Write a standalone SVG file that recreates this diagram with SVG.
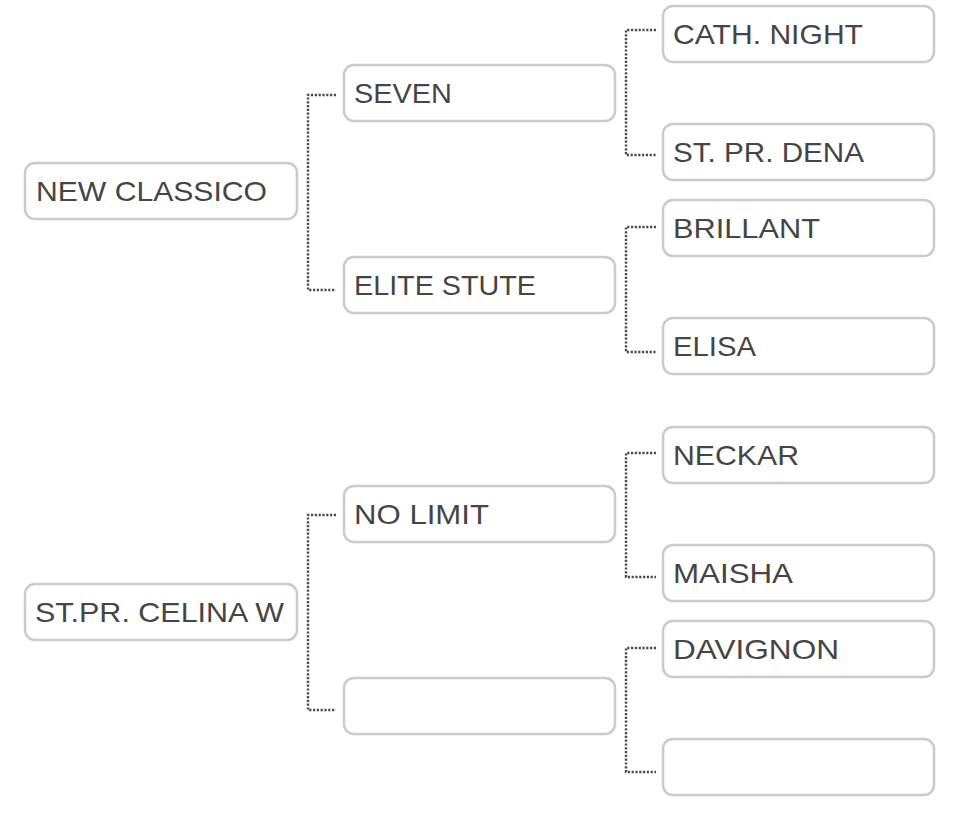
<svg xmlns="http://www.w3.org/2000/svg" width="960" height="825" viewBox="0 0 960 825">
<style>
.box{fill:#fff;stroke:#cbcbcb;stroke-width:2.5}
.t{font-family:"Liberation Sans",Arial,sans-serif;font-size:28px;fill:#454545}
.c{fill:none;stroke:#4a4a4a;stroke-width:2.4;stroke-dasharray:2.2 1.6}
</style>
<rect width="960" height="825" fill="#fff"/>
<g id="connectors">
<path class="c" d="M336 95H308V290H336"/>
<path class="c" d="M336 515H308V710H336"/>
<path class="c" d="M656 30H626V155H656"/>
<path class="c" d="M656 227H626V352H656"/>
<path class="c" d="M656 453H626V577H656"/>
<path class="c" d="M656 648H626V772H656"/>
</g>
<g id="n-new-classico"><rect class="box" x="25" y="163" width="272" height="56" rx="10"/><text class="t" x="36" y="201" textLength="231" lengthAdjust="spacingAndGlyphs">NEW CLASSICO</text></g>
<g id="n-celina"><rect class="box" x="25" y="584" width="272" height="56" rx="10"/><text class="t" x="35" y="622" textLength="249" lengthAdjust="spacingAndGlyphs">ST.PR. CELINA W</text></g>
<g id="n-seven"><rect class="box" x="344" y="65" width="271" height="56" rx="10"/><text class="t" x="354" y="103" textLength="98" lengthAdjust="spacingAndGlyphs">SEVEN</text></g>
<g id="n-elite"><rect class="box" x="344" y="257" width="271" height="56" rx="10"/><text class="t" x="354" y="295" textLength="182" lengthAdjust="spacingAndGlyphs">ELITE STUTE</text></g>
<g id="n-nolimit"><rect class="box" x="344" y="486" width="271" height="56" rx="10"/><text class="t" x="354" y="524" textLength="135" lengthAdjust="spacingAndGlyphs">NO LIMIT</text></g>
<g id="n-empty2"><rect class="box" x="344" y="678" width="271" height="56" rx="10"/></g>
<g id="n-cath"><rect class="box" x="663" y="6" width="271" height="56" rx="10"/><text class="t" x="673" y="44" textLength="190" lengthAdjust="spacingAndGlyphs">CATH. NIGHT</text></g>
<g id="n-dena"><rect class="box" x="663" y="124" width="271" height="56" rx="10"/><text class="t" x="673" y="162" textLength="191" lengthAdjust="spacingAndGlyphs">ST. PR. DENA</text></g>
<g id="n-brillant"><rect class="box" x="663" y="200" width="271" height="56" rx="10"/><text class="t" x="673" y="238" textLength="147" lengthAdjust="spacingAndGlyphs">BRILLANT</text></g>
<g id="n-elisa"><rect class="box" x="663" y="318" width="271" height="56" rx="10"/><text class="t" x="673" y="356" textLength="83" lengthAdjust="spacingAndGlyphs">ELISA</text></g>
<g id="n-neckar"><rect class="box" x="663" y="427" width="271" height="56" rx="10"/><text class="t" x="673" y="465" textLength="126" lengthAdjust="spacingAndGlyphs">NECKAR</text></g>
<g id="n-maisha"><rect class="box" x="663" y="545" width="271" height="56" rx="10"/><text class="t" x="673" y="583" textLength="120" lengthAdjust="spacingAndGlyphs">MAISHA</text></g>
<g id="n-davignon"><rect class="box" x="663" y="621" width="271" height="56" rx="10"/><text class="t" x="673" y="659" textLength="166" lengthAdjust="spacingAndGlyphs">DAVIGNON</text></g>
<g id="n-empty3"><rect class="box" x="663" y="739" width="271" height="56" rx="10"/></g>
</svg>
